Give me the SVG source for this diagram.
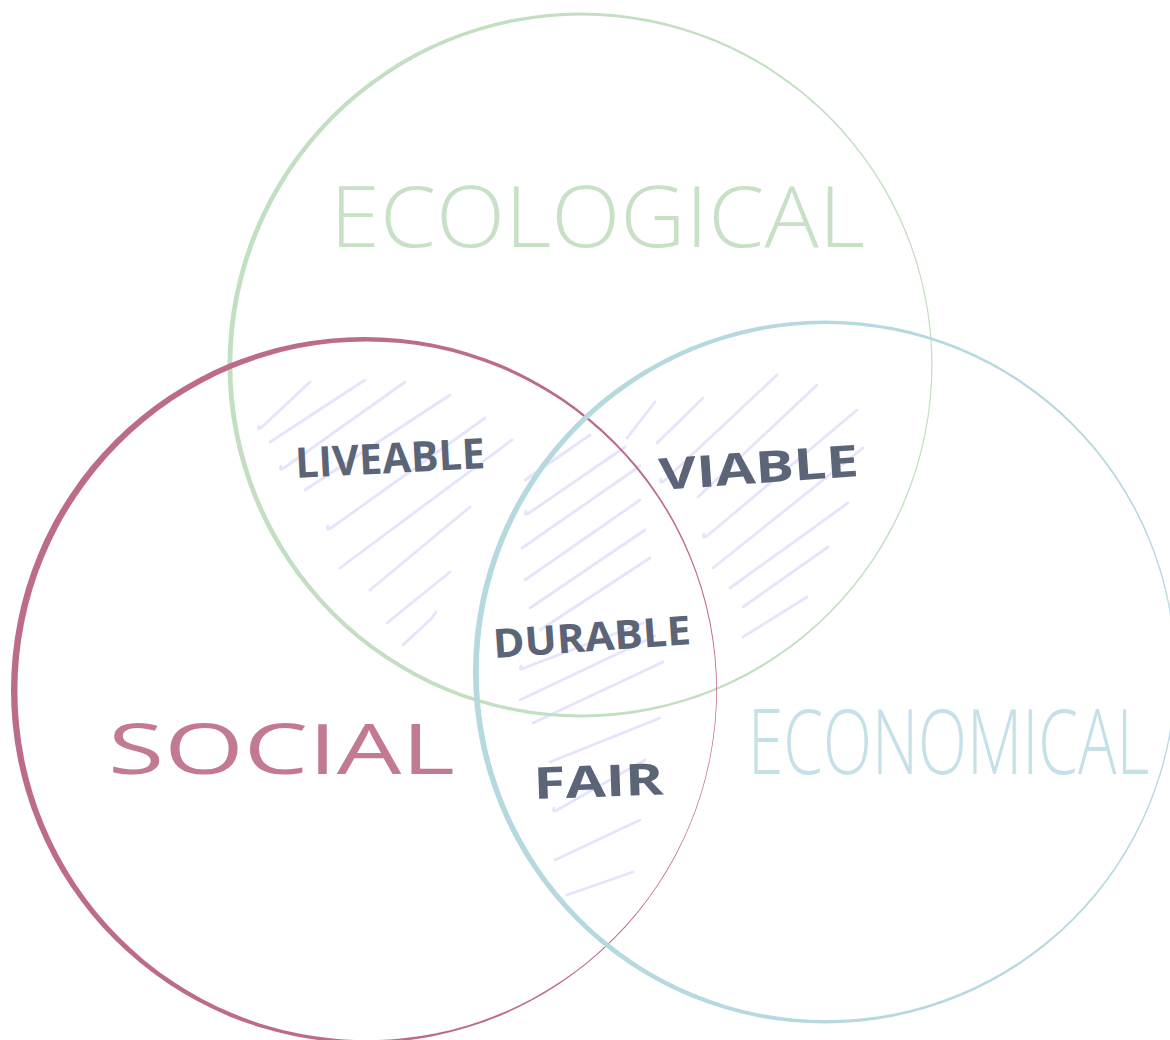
<svg xmlns="http://www.w3.org/2000/svg" width="1170" height="1040" viewBox="0 0 1170 1040">
  <style>
    .ring { fill-rule: evenodd; stroke: none; }
    .title { font-family: "Open Sans", "Liberation Sans", sans-serif; font-weight: 300; }
    .zone { font-family: "Open Sans", "Liberation Sans", sans-serif; font-weight: 700; fill: #5b6577; }
    .hatch path { fill: none; stroke: #e6e4fb; stroke-width: 2.8; stroke-linecap: round; stroke-linejoin: round; }
  </style>
  <rect width="1170" height="1040" fill="#ffffff"/>

  <!-- hatching of the overlap zones -->
  <g id="hatching" class="hatch">
    <!-- liveable -->
    <path d="M259,426 Q257,431 262,427 L310,382"/>
    <path d="M270,442 L365,380"/>
    <path d="M281,466 Q279,471 284,468 L405,382"/>
    <path d="M305,490 L450,395"/>
    <path d="M328,526 Q326,531 331,528 L485,418"/>
    <path d="M340,568 L512,440"/>
    <path d="M370,590 L470,507"/>
    <path d="M387,623 L450,572"/>
    <path d="M403,645 L432,618 L436,612"/>
    <!-- viable -->
    <path d="M627,438 L655,402"/>
    <path d="M657,443 L703,398"/>
    <path d="M661,479 Q659,484 664,481 L777,375"/>
    <path d="M698,497 L817,385"/>
    <path d="M704,534 Q702,539 707,536 L857,410"/>
    <path d="M713,568 L863,448"/>
    <path d="M730,588 L848,503"/>
    <path d="M743,607 L828,547"/>
    <path d="M743,637 L807,597"/>
    <!-- durable -->
    <path d="M525,480 L590,435"/>
    <path d="M526,511 Q524,516 529,513 L625,447"/>
    <path d="M522,548 L640,466"/>
    <path d="M525,580 L640,500"/>
    <path d="M530,608 L645,530"/>
    <path d="M540,630 L650,558"/>
    <path d="M521,666 Q519,671 524,668 L643,623"/>
    <path d="M520,700 L655,636"/>
    <!-- fair -->
    <path d="M533,723 L663,662"/>
    <path d="M550,762 L660,718"/>
    <path d="M554,808 Q552,813 557,810 L645,760"/>
    <path d="M555,860 L640,820"/>
    <path d="M567,895 L633,872"/>
  </g>

  <!-- ecological circle -->
  <g id="ecological">
    <path class="ring" fill="#c3dfc1" d="M227.5,365 a352.5,352.5 0 1,0 705,0 a352.5,352.5 0 1,0 -705,0 Z M232.3,365 a349.5,349.5 0 1,0 699,0 a349.5,349.5 0 1,0 -699,0 Z"/>
    <text class="title" x="330" y="247" font-size="84" fill="#c8e1c6" textLength="535" lengthAdjust="spacingAndGlyphs">ECOLOGICAL</text>
  </g>

  <!-- social circle -->
  <g id="social">
    <path class="ring" fill="#bd6b8a" d="M11,690 a353,353 0 1,0 706,0 a353,353 0 1,0 -706,0 Z M17.4,690.8 a349.4,349.4 0 1,0 698.8,0 a349.4,349.4 0 1,0 -698.8,0 Z"/>
    <text class="title" x="108" y="774" font-size="70" fill="#c27a94" textLength="347" lengthAdjust="spacingAndGlyphs" style="font-weight:400">SOCIAL</text>
  </g>

  <!-- economical circle -->
  <g id="economical">
    <path class="ring" fill="#b6d8df" d="M473,672 a351.5,351.5 0 1,0 703,0 a351.5,351.5 0 1,0 -703,0 Z M478.7,672 a348,348 0 1,0 696,0 a348,348 0 1,0 -696,0 Z"/>
    <text class="title" x="0" y="0" font-size="64" fill="#c6e0e7" transform="translate(748 774) scale(1 1.4)">ECONOMICAL</text>
  </g>

  <!-- overlap labels -->
  <g id="liveable">
    <text class="zone" x="296" y="478" font-size="42" textLength="190" lengthAdjust="spacingAndGlyphs" transform="rotate(-3 296 478)">LIVEABLE</text>
  </g>
  <g id="viable">
    <text class="zone" x="660" y="490" font-size="44" textLength="200" lengthAdjust="spacingAndGlyphs" transform="rotate(-4 660 490)">VIABLE</text>
  </g>
  <g id="durable">
    <text class="zone" x="494" y="658" font-size="40" textLength="198" lengthAdjust="spacingAndGlyphs" transform="rotate(-4 494 658)">DURABLE</text>
  </g>
  <g id="fair">
    <text class="zone" x="534" y="799" font-size="44" textLength="130" lengthAdjust="spacingAndGlyphs" transform="rotate(-2 534 799)">FAIR</text>
  </g>

  <!-- no connectors in this diagram -->
  <g id="connectors"/>
</svg>
